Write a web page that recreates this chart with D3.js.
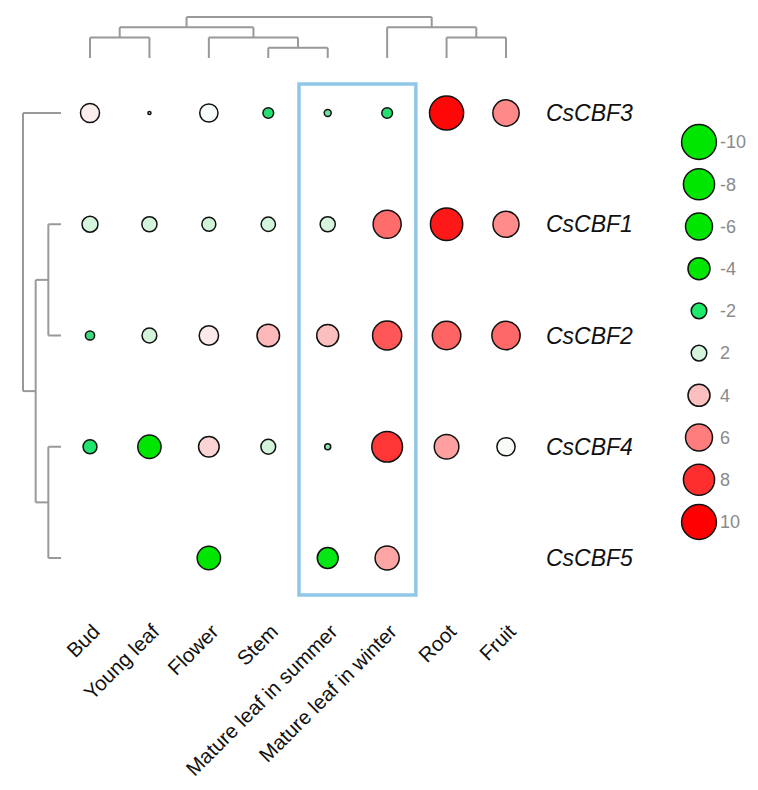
<!DOCTYPE html>
<html>
<head>
<meta charset="utf-8">
<script src="https://cdn.jsdelivr.net/npm/d3@7"></script>
<style>
  html, body { margin: 0; padding: 0; background: #fff; }
  svg { display: block; }
</style>
</head>
<body>
<svg id="chart" width="758" height="790"></svg>
<script>
// ---------- DATA ----------
const tissues = ["Bud", "Young leaf", "Flower", "Stem", "Mature leaf in summer", "Mature leaf in winter", "Root", "Fruit"];
const genes = ["CsCBF3", "CsCBF1", "CsCBF2", "CsCBF4", "CsCBF5"];

const CsCBF3 = [3.0, 0.08, 2.75, -0.95, -0.4, -0.95, 9.6, 5.7];
const CsCBF1 = [2.1, 1.9, 1.6, 1.7, 1.9, 6.5, 8.6, 5.6];
const CsCBF2 = [-0.7, 1.8, 3.1, 4.2, 4.0, 7.0, 6.7, 6.6];
const CsCBF4 = [-1.6, -4.5, 3.5, 1.8, -0.3, 7.8, 5.0, 2.75];
const CsCBF5 = [null, null, -4.5, null, -3.6, 4.8, null, null];
const seriesValues = [CsCBF3, CsCBF1, CsCBF2, CsCBF4, CsCBF5];

const legendValues = [-10, -8, -6, -4, -2, 2, 4, 6, 8, 10];
const legendLabels = ["-10", "-8", "-6", "-4", "-2", "2", "4", "6", "8", "10"];

const highlighted = ["Mature leaf in summer", "Mature leaf in winter"];

// column dendrogram (merge heights)
const colTree = {h: 4, children: [
  {h: 3, children: [
    {h: 2, children: [{leaf: "Bud"}, {leaf: "Young leaf"}]},
    {h: 2, children: [{leaf: "Flower"}, {h: 1, children: [{leaf: "Stem"}, {leaf: "Mature leaf in summer"}]}]}
  ]},
  {h: 3, children: [
    {leaf: "Mature leaf in winter"},
    {h: 2, children: [{leaf: "Root"}, {leaf: "Fruit"}]}
  ]}
]};
// row dendrogram
const rowTree = {h: 3, children: [
  {leaf: "CsCBF3"},
  {h: 2, children: [
    {h: 1, children: [{leaf: "CsCBF1"}, {leaf: "CsCBF2"}]},
    {h: 1, children: [{leaf: "CsCBF4"}, {leaf: "CsCBF5"}]}
  ]}
]};

// ---------- SCALES ----------
const svg = d3.select("#chart");
const x = d3.scalePoint().domain(tissues).range([90, 506]);
const y = d3.scalePoint().domain(genes).range([113, 558]);
const r = d3.scaleSqrt().domain([0, 10]).range([0, 17.4]);
const color = d3.scaleLinear()
  .domain([-10, -4, -2, -1, -0.5, -0.3, 0, 2.2, 2.75, 3.0, 3.5, 4.0, 5.0, 6.5, 7.5, 8.5, 10])
  .range(["#00e600","#00e600","#1fe96b","#20e070","#50d888","#90e4b0","#c4f0d0","#d6f5dd","#f8fcf8","#fdeeee","#fcd4d4","#fcbfbf","#ffa0a0","#ff6c6c","#ff4242","#ff1a1a","#ff0000"])
  .clamp(true);
const colH = d3.scaleLinear().domain([0, 4]).range([58, 17]);
const rowH = d3.scaleLinear().domain([0, 3]).range([61, 23]);

const dendroColor = "#999";

// ---------- DENDROGRAMS ----------
function drawTree(node, posOf, hScale, horizontal) {
  const g = svg.append("g").attr("fill", "none").attr("stroke", dendroColor).attr("stroke-width", 2);
  function rec(n) {
    if (n.leaf) return {p: posOf(n.leaf), h: 0};
    const kids = n.children.map(rec);
    const ps = kids.map(k => k.p);
    const mid = (d3.min(ps) + d3.max(ps)) / 2;
    kids.forEach(k => {
      if (horizontal) {
        g.append("path").attr("d", `M${hScale(k.h)},${k.p}H${hScale(n.h)}`);
      } else {
        g.append("path").attr("d", `M${k.p},${hScale(k.h)}V${hScale(n.h)}`);
      }
    });
    if (horizontal) {
      g.append("path").attr("d", `M${hScale(n.h)},${d3.min(ps)}V${d3.max(ps)}`);
    } else {
      g.append("path").attr("d", `M${d3.min(ps)},${hScale(n.h)}H${d3.max(ps)}`);
    }
    return {p: mid, h: n.h};
  }
  rec(node);
}
drawTree(colTree, t => x(t), colH, false);
drawTree(rowTree, gname => y(gname), rowH, true);

// ---------- HIGHLIGHT BOX ----------
const step = x.step();
svg.append("rect")
  .attr("x", x(highlighted[0]) - step / 2 + 1)
  .attr("y", y(genes[0]) - 29)
  .attr("width", x(highlighted[1]) - x(highlighted[0]) + step - 2)
  .attr("height", y(genes[genes.length - 1]) - y(genes[0]) + 66)
  .attr("fill", "none")
  .attr("stroke", "#90c6e8")
  .attr("stroke-width", 3.5);

// ---------- BUBBLES ----------
const cells = [];
genes.forEach((gname, i) => {
  seriesValues[i].forEach((v, j) => {
    if (v !== null) cells.push({gene: gname, tissue: tissues[j], v});
  });
});
svg.append("g").selectAll("circle").data(cells).join("circle")
  .attr("cx", d => x(d.tissue))
  .attr("cy", d => y(d.gene))
  .attr("r", d => r(Math.abs(d.v)))
  .attr("fill", d => color(d.v))
  .attr("stroke", "#111")
  .attr("stroke-width", 1.5);

// ---------- GENE LABELS ----------
svg.append("g").selectAll("text").data(genes).join("text")
  .attr("x", 546)
  .attr("y", d => y(d))
  .attr("dy", "0.35em")
  .attr("font-family", "Liberation Sans, Arial, sans-serif")
  .attr("font-style", "italic")
  .attr("font-size", 23)
  .attr("fill", "#111")
  .text(d => d);

// ---------- TISSUE LABELS ----------
svg.append("g").selectAll("text").data(tissues).join("text")
  .attr("transform", d => `translate(${x(d) + 11},${633}) rotate(-45)`)
  .attr("text-anchor", "end")
  .attr("font-family", "Liberation Sans, Arial, sans-serif")
  .attr("font-size", 20.5)
  .attr("fill", "#111")
  .text(d => d);

// ---------- LEGEND ----------
const ly = d3.scalePoint().domain(legendValues).range([142, 522]);
const lg = svg.append("g");
lg.selectAll("circle").data(legendValues).join("circle")
  .attr("cx", 699)
  .attr("cy", d => ly(d))
  .attr("r", d => r(Math.abs(d)))
  .attr("fill", d => color(d))
  .attr("stroke", "#111")
  .attr("stroke-width", 1.5);
lg.selectAll("text").data(legendValues).join("text")
  .attr("x", 720)
  .attr("y", d => ly(d))
  .attr("dy", "0.35em")
  .attr("font-family", "Liberation Sans, Arial, sans-serif")
  .attr("font-size", 18)
  .attr("fill", "#8a8a8a")
  .text((d, i) => legendLabels[i]);
</script>
</body>
</html>
